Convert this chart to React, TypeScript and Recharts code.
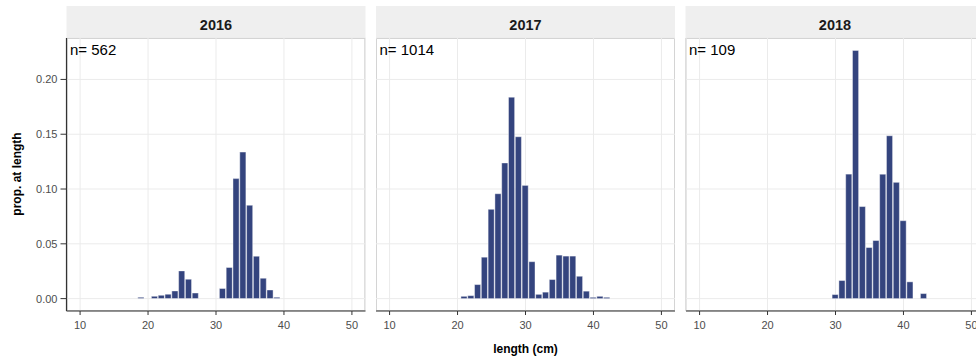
import React from 'react';
import { BarChart, Bar, XAxis, YAxis, CartesianGrid } from 'recharts';

// Length-frequency proportions by 1 cm length class, one array per year
const years = ['2016', '2017', '2018'];
const sampleSizes = [562, 1014, 109];

const lengths2016 = [19, 21, 22, 23, 24, 25, 26, 27, 31, 32, 33, 34, 35, 36, 37, 38, 39];
const props2016 = [0.0012, 0.0021, 0.003, 0.004, 0.007, 0.0253, 0.0177, 0.0051, 0.0092, 0.0284, 0.1095, 0.1337, 0.0852, 0.0387, 0.0186, 0.0079, 0.0012];

const lengths2017 = [21, 22, 23, 24, 25, 26, 27, 28, 29, 30, 31, 32, 33, 34, 35, 36, 37, 38, 39, 40, 41, 42];
const props2017 = [0.0021, 0.0027, 0.0128, 0.0378, 0.0815, 0.0957, 0.1238, 0.1838, 0.1477, 0.1033, 0.0337, 0.0039, 0.0059, 0.0174, 0.0397, 0.0388, 0.0388, 0.0204, 0.0068, 0.0012, 0.0021, 0.0012];

const lengths2018 = [30, 31, 32, 33, 34, 35, 36, 37, 38, 39, 40, 41, 43];
const props2018 = [0.0037, 0.0165, 0.1136, 0.2265, 0.084, 0.0466, 0.053, 0.1135, 0.1486, 0.1061, 0.0711, 0.0153, 0.0046];

const xTicks = [10, 20, 30, 40, 50];
const yTicks = [0, 0.05, 0.1, 0.15, 0.2];
const X_DOMAIN: [number, number] = [8, 52];
const Y_DOMAIN: [number, number] = [-0.0113, 0.2378];

const toRows = (lengths: number[], props: number[]) =>
  lengths.map((len, i) => ({ len, prop: props[i] }));

const panelData = [
  toRows(lengths2016, props2016),
  toRows(lengths2017, props2017),
  toRows(lengths2018, props2018),
];

// Layout
const FONT = '"Liberation Sans", Arial, Helvetica, sans-serif';
const STRIP_TOP = 6;
const PANEL_TOP = 38;
const PANEL_H = 273;
const PANEL_W = 299;
const PANEL_LEFTS = [66.5, 376, 685.5];
const Y_AXIS_W = 66.5;
const X_AXIS_H = 50;
const CHART_H = PANEL_TOP + PANEL_H + X_AXIS_H;
const BAR_FILL = '#34447E';
const GRID = '#EBEBEB';
const BORDER = '#BDBDBD';
const AXIS = '#333333';
const TICK_TEXT = '#4D4D4D';

const barWidth = PANEL_W / (X_DOMAIN[1] - X_DOMAIN[0]);

function Panel({ index }: { index: number }) {
  const withY = index === 0;
  const left = PANEL_LEFTS[index] - (withY ? Y_AXIS_W : 0);
  const width = PANEL_W + (withY ? Y_AXIS_W : 0);
  return (
    <div style={{ position: 'absolute', left, top: 0, width, height: CHART_H }}>
      <BarChart
        width={width}
        height={CHART_H}
        data={panelData[index]}
        margin={{ top: PANEL_TOP, right: 0, bottom: 0, left: 0 }}
        barCategoryGap={0}
        barGap={0}
      >
        <CartesianGrid stroke={GRID} strokeWidth={1} />
        <XAxis
          type="number"
          dataKey="len"
          domain={X_DOMAIN}
          allowDataOverflow
          ticks={xTicks}
          height={X_AXIS_H}
          axisLine={{ stroke: AXIS, strokeWidth: 1.2 }}
          tickLine={{ stroke: AXIS }}
          tickSize={4}
          tickMargin={6}
          tick={{ fill: TICK_TEXT, fontSize: 11, fontFamily: FONT }}
        />
        <YAxis
          type="number"
          domain={Y_DOMAIN}
          allowDataOverflow
          ticks={yTicks}
          hide={!withY}
          width={Y_AXIS_W}
          axisLine={{ stroke: AXIS, strokeWidth: 1.2 }}
          tickLine={{ stroke: AXIS }}
          tickSize={6}
          tickMargin={3}
          tickFormatter={(v: number) => v.toFixed(2)}
          tick={{ fill: TICK_TEXT, fontSize: 11, fontFamily: FONT }}
        />
        <Bar
          dataKey="prop"
          fill={BAR_FILL}
          stroke="#FFFFFF"
          strokeOpacity={0.7}
          strokeWidth={0.6}
          barSize={barWidth}
          isAnimationActive={false}
        />
      </BarChart>
    </div>
  );
}

export default function App() {
  return (
    <div
      style={{
        position: 'absolute',
        left: 0,
        top: 0,
        width: 976,
        height: 361,
        overflow: 'hidden',
        background: '#FFFFFF',
        fontFamily: FONT,
      }}
    >
      <svg width={1000} height={361} style={{ position: 'absolute', left: 0, top: 0 }}>
        {years.map((y, i) => (
          <g key={y}>
            <rect x={PANEL_LEFTS[i]} y={STRIP_TOP} width={PANEL_W} height={PANEL_TOP - STRIP_TOP} fill="#EFEFEF" />
            <rect
              x={PANEL_LEFTS[i] + 0.5}
              y={PANEL_TOP + 0.5}
              width={PANEL_W - 1}
              height={PANEL_H - 1}
              fill="none"
              stroke={BORDER}
            />
          </g>
        ))}
      </svg>
      {years.map((y, i) => (
        <Panel key={y} index={i} />
      ))}
      <svg
        width={1000}
        height={361}
        style={{ position: 'absolute', left: 0, top: 0, pointerEvents: 'none' }}
        fontFamily={FONT}
      >
        {years.map((y, i) => (
          <g key={y}>
            <text
              x={PANEL_LEFTS[i] + PANEL_W / 2}
              y={30}
              textAnchor="middle"
              fontSize={14.5}
              fontWeight="bold"
              fill="#1A1A1A"
            >
              {y}
            </text>
            <text x={PANEL_LEFTS[i] + 3.5} y={55} fontSize={15} fill="#000000">
              {`n= ${sampleSizes[i]}`}
            </text>
          </g>
        ))}
        <text
          x={525.5}
          y={353}
          textAnchor="middle"
          fontSize={12}
          fontWeight="bold"
          fill="#000000"
        >
          length (cm)
        </text>
        <text
          transform="translate(20.5, 174) rotate(-90)"
          textAnchor="middle"
          fontSize={12}
          fontWeight="bold"
          fill="#000000"
        >
          prop. at length
        </text>
      </svg>
    </div>
  );
}
